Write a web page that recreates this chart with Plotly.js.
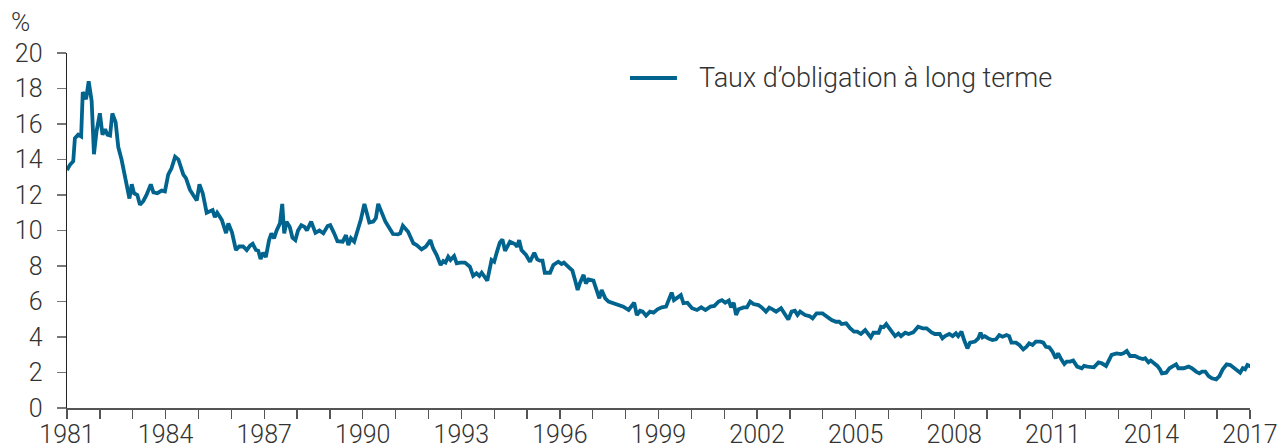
<!DOCTYPE html>
<html>
<head>
<meta charset="utf-8">
<script src="https://cdn.plot.ly/plotly-3.0.1.min.js"></script>
<style>
html,body{margin:0;padding:0;background:#fff;}
#chart{width:1283px;height:448px;}
</style>
</head>
<body>
<div id="chart"></div>
<script>
// Decimal-year positions of the traced points
const years = [
1981.00,1981.09,1981.19,1981.24,1981.34,1981.43,1981.48,1981.58,1981.66,1981.75,1981.82,1981.90,1982.00,1982.08,1982.16,1982.23,1982.31,1982.38,1982.48,1982.56,1982.66,1982.80,1982.90,1982.97,1983.04,1983.14,1983.22,1983.32,1983.42,1983.55,1983.63,1983.75,1983.88,1983.98,1984.08,1984.18,1984.29,1984.39,1984.54,1984.62,1984.74,1984.84,1984.95,1985.03,1985.13,1985.25,1985.35,1985.43,1985.50,1985.57,1985.71,1985.84,1985.91,1986.02,1986.14,
1986.24,1986.36,1986.47,1986.57,1986.65,1986.75,1986.82,1986.89,1986.97,1987.05,1987.15,1987.22,1987.30,1987.38,1987.48,1987.55,1987.61,1987.68,1987.78,1987.86,1987.95,1988.03,1988.13,1988.23,1988.30,1988.43,1988.56,1988.68,1988.80,1988.93,1989.01,1989.13,1989.23,1989.39,1989.49,1989.56,1989.64,1989.74,1989.84,1989.94,1990.05,1990.20,1990.32,1990.40,1990.47,1990.56,1990.69,1990.79,1990.92,1991.07,1991.14,1991.22,
1991.38,1991.54,1991.64,1991.79,1991.92,1992.06,1992.14,1992.25,1992.37,1992.45,1992.52,1992.60,1992.67,1992.78,1992.86,1992.96,1993.11,1993.26,1993.36,1993.46,1993.55,1993.62,1993.72,1993.79,1993.92,1994.00,1994.07,1994.17,1994.25,1994.33,1994.40,1994.48,1994.63,1994.70,1994.76,1994.83,1994.97,1995.09,1995.22,1995.31,1995.39,1995.47,1995.54,1995.70,1995.80,1995.95,1996.05,1996.12,1996.25,
1996.38,1996.46,1996.54,1996.61,1996.72,1996.79,1996.87,1997.02,1997.10,1997.20,1997.27,1997.38,1997.48,1997.63,1997.78,1997.93,1998.09,1998.17,1998.26,1998.34,1998.44,1998.52,1998.62,1998.74,1998.85,1998.97,1999.10,1999.23,1999.33,1999.40,1999.47,1999.58,1999.68,1999.76,1999.88,2000.02,2000.17,2000.30,2000.43,2000.58,2000.70,2000.83,2000.93,2001.03,2001.14,2001.21,2001.29,2001.36,2001.44,2001.59,2001.69,2001.79,
2001.89,2002.04,2002.14,2002.27,2002.37,2002.47,2002.58,2002.73,2002.85,2002.95,2003.05,2003.15,2003.23,2003.31,2003.46,2003.59,2003.69,2003.81,2003.99,2004.14,2004.27,2004.40,2004.50,2004.57,2004.71,2004.83,2004.95,2005.05,2005.16,2005.29,2005.39,2005.46,2005.54,2005.70,2005.77,2005.85,2005.93,2006.03,2006.13,2006.20,2006.30,2006.38,2006.51,2006.61,
2006.75,2006.90,2007.04,2007.16,2007.31,2007.41,2007.56,2007.64,2007.72,2007.85,2007.95,2008.05,2008.12,2008.22,2008.30,2008.40,2008.48,2008.63,2008.73,2008.80,2008.86,2008.93,2009.03,2009.16,2009.27,2009.37,2009.47,2009.59,2009.67,2009.74,2009.88,2009.98,2010.10,2010.20,2010.28,2010.38,2010.48,2010.62,2010.71,2010.79,2010.89,2010.99,2011.09,2011.16,2011.27,2011.35,2011.42,2011.52,2011.62,2011.74,2011.88,2011.95,2012.05,
2012.18,2012.25,2012.39,2012.49,2012.62,2012.72,2012.79,2012.94,2013.07,2013.15,2013.25,2013.35,2013.50,2013.61,2013.74,2013.81,2013.91,2013.98,2014.06,2014.18,2014.26,2014.32,2014.45,2014.55,2014.67,2014.75,2014.82,2014.98,2015.13,2015.23,2015.36,2015.46,2015.54,2015.64,2015.74,2015.84,2015.97,2016.07,2016.17,2016.29,2016.40,2016.50,2016.60,2016.70,2016.78,2016.85,2016.92,2016.98,2017.00
];

// Long-term bond rate, %
const bondRate = [
13.4,13.7,13.9,15.2,15.4,15.3,17.8,17.4,18.4,17.3,14.3,15.6,16.6,15.4,15.7,15.4,15.35,16.6,16.1,14.7,14.0,12.7,11.8,12.6,12.1,12.0,11.45,11.65,12.0,12.6,12.15,12.1,12.25,12.2,13.15,13.5,14.15,14.0,13.15,12.95,12.3,12.0,11.7,12.6,12.1,11.0,11.1,11.15,10.75,11.0,10.6,9.85,10.4,9.9,8.9,
9.1,9.1,8.9,9.15,9.25,8.9,8.86,8.4,8.75,8.5,9.46,9.84,9.56,10.0,10.4,11.5,9.84,10.5,10.2,9.6,9.46,10.0,10.3,10.2,10.0,10.5,9.87,10.0,9.84,10.25,10.3,9.84,9.4,9.37,9.74,9.18,9.56,9.37,10.0,10.6,11.5,10.45,10.5,10.7,11.5,11.1,10.5,10.2,9.8,9.78,9.84,10.27,
9.93,9.28,9.18,8.94,9.09,9.46,9.0,8.62,8.06,8.28,8.2,8.52,8.34,8.56,8.15,8.19,8.19,7.96,7.44,7.59,7.44,7.62,7.31,7.18,8.34,8.24,8.71,9.31,9.5,8.86,9.09,9.37,9.24,9.09,9.46,8.9,8.62,8.24,8.75,8.37,8.3,8.3,7.62,7.62,8.06,8.24,8.11,8.19,7.96,
7.74,7.21,6.65,7.05,7.5,7.02,7.25,7.18,6.65,6.18,6.65,6.18,6.0,5.9,5.8,5.71,5.52,5.71,5.93,5.24,5.48,5.43,5.2,5.43,5.37,5.56,5.67,5.71,6.12,6.5,6.08,6.21,6.36,5.9,5.93,5.62,5.52,5.67,5.52,5.71,5.75,6.0,6.08,5.93,6.05,5.67,5.93,5.24,5.56,5.67,5.67,6.0,
5.86,5.80,5.67,5.43,5.65,5.56,5.43,5.62,5.24,4.99,5.43,5.48,5.24,5.43,5.24,5.18,5.05,5.33,5.33,5.11,4.96,4.86,4.86,4.73,4.77,4.49,4.30,4.30,4.17,4.39,4.17,3.98,4.24,4.24,4.58,4.55,4.73,4.49,4.24,4.05,4.2,4.05,4.24,4.17,
4.26,4.58,4.49,4.49,4.26,4.17,4.17,3.92,4.05,4.17,4.05,4.21,4.05,4.30,3.83,3.36,3.68,3.74,3.92,4.24,3.98,4.05,3.92,3.83,3.87,4.11,4.02,4.11,4.05,3.68,3.68,3.55,3.30,3.45,3.64,3.55,3.74,3.74,3.68,3.45,3.42,3.17,2.80,3.08,2.70,2.48,2.61,2.61,2.67,2.33,2.24,2.37,2.33,
2.33,2.29,2.57,2.52,2.37,2.74,2.99,3.08,3.04,3.08,3.21,2.93,2.93,2.83,2.76,2.80,2.57,2.67,2.55,2.37,2.18,1.95,1.99,2.24,2.37,2.46,2.24,2.24,2.33,2.24,2.05,1.95,2.05,2.05,1.80,1.67,1.61,1.80,2.18,2.46,2.42,2.27,2.10,1.99,2.24,2.18,2.42,2.37,2.48
];

const seriesName = "Taux d’obligation à long terme";
const xTickVals = [1981,1982,1983,1984,1985,1986,1987,1988,1989,1990,1991,1992,1993,1994,1995,1996,1997,1998,1999,2000,2001,2002,2003,2004,2005,2006,2007,2008,2009,2010,2011,2012,2013,2014,2015,2016,2017];
const xTickText = ["1981","","","1984","","","1987","","","1990","","","1993","","","1996","","","1999","","","2002","","","2005","","","2008","","","2011","","","2014","","","2017"];
const yTickVals = [0,2,4,6,8,10,12,14,16,18,20];
const yUnit = "%";

const FONT = "Roboto, 'Liberation Sans', sans-serif";
const TXT = "#333333";
const LINE = "#00648f";

const data = [{
  x: years,
  y: bondRate,
  type: "scatter",
  mode: "lines",
  name: seriesName,
  line: {color: LINE, width: 3.8},
  cliponaxis: false,
  showlegend: false
}];

const layout = {
  width: 1283,
  height: 448,
  margin: {l: 67, r: 33, t: 53, b: 40},
  paper_bgcolor: "#ffffff",
  plot_bgcolor: "#ffffff",
  font: {family: FONT, size: 25, color: TXT, weight: 300},
  showlegend: false,
  xaxis: {
    type: "linear",
    range: [1981, 2017],
    tickmode: "array",
    tickvals: xTickVals,
    ticktext: xTickText,
    ticks: "outside",
    ticklen: 9,
    tickwidth: 1.3,
    tickcolor: "#555555",
    showline: true,
    linecolor: "#555555",
    linewidth: 1.5,
    showgrid: false,
    zeroline: false,
    ticklabelstandoff: -6,
    tickfont: {family: FONT, size: 25, color: TXT, weight: 300},
    fixedrange: true
  },
  yaxis: {
    range: [0, 20],
    tickmode: "array",
    tickvals: yTickVals,
    ticks: "outside",
    ticklen: 9,
    tickwidth: 1.3,
    tickcolor: "#777777",
    showline: true,
    linecolor: "#222222",
    linewidth: 1.5,
    showgrid: false,
    zeroline: false,
    ticklabelstandoff: 9,
    tickfont: {family: FONT, size: 25, color: TXT, weight: 300},
    fixedrange: true
  },
  shapes: [{
    type: "line", xref: "paper", yref: "paper",
    x0: 0.4759, x1: 0.5156, y0: 0.9296, y1: 0.9296,
    line: {color: LINE, width: 3.8}
  }],
  annotations: [{
    text: seriesName,
    xref: "paper", yref: "paper",
    x: 0.5325, y: 0.9296,
    xanchor: "left", yanchor: "middle",
    showarrow: false,
    font: {family: FONT, size: 27, color: TXT, weight: 300}
  }, {
    text: yUnit,
    xref: "paper", yref: "paper",
    x: -0.0296, y: 1.087,
    xanchor: "right", yanchor: "middle",
    showarrow: false,
    font: {family: FONT, size: 26, color: TXT, weight: 300}
  }]
};

Plotly.newPlot("chart", data, layout, {displayModeBar: false, staticPlot: true});
</script>
</body>
</html>
